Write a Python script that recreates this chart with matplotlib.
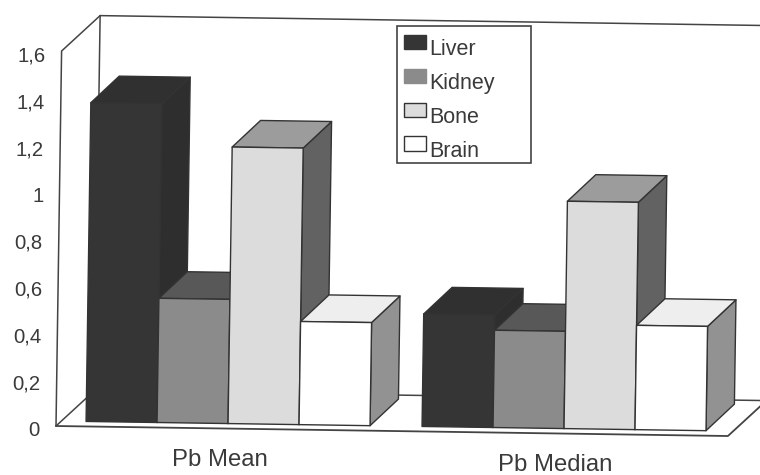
import matplotlib
matplotlib.use("Agg")
import matplotlib.pyplot as plt
from matplotlib.patches import Polygon, Patch, Rectangle
from matplotlib.legend_handler import HandlerPatch
from matplotlib.transforms import Affine2D

categories = ["Pb Mean", "Pb Median"]
series_names = ["Liver", "Kidney", "Bone", "Brain"]
liver = [1.36, 0.48]
kidney = [0.53, 0.415]
bone = [1.18, 0.97]
brain = [0.44, 0.445]
y_ticks = [0, 0.2, 0.4, 0.6, 0.8, 1, 1.2, 1.4, 1.6]
y_tick_labels = ["0", "0,2", "0,4", "0,6", "0,8", "1", "1,2", "1,4", "1,6"]

W, H, DPI = 760, 475, 100
INK = "#333333"
TXT = "#3a3a3a"
FONT = "Liberation Sans"
LEFT, BASE, RIGHT, TOP = 56, 426, 728, 51     # front-plane pixels
TILT = 0.0149                                 # scan rotation, radians

# face colours: front, top, side
STYLES = [("#353535", "#303030", "#2e2e2e"),
          ("#8b8b8b", "#585858", "#585858"),
          ("#dcdcdc", "#9c9c9c", "#626262"),
          ("#ffffff", "#eeeeee", "#929292")]
LEGEND_EDGES = ["#353535", "#8b8b8b", "#333333", "#333333"]

fig = plt.figure(figsize=(W / DPI, H / DPI), dpi=DPI, facecolor="white")
ax = fig.add_axes([LEFT / W, (H - BASE) / H, (RIGHT - LEFT) / W, (BASE - TOP) / H])
ax.set_xlim(-0.5, 1.5)
ax.set_ylim(0, 1.6)
ax.patch.set_visible(False)
for s in ax.spines.values():
    s.set_visible(False)

rot = Affine2D().rotate_around(LEFT, H - BASE, -TILT)
tr = ax.transData + rot

# pixel depth converted to data units through the axis scales
px_x = (ax.get_xlim()[1] - ax.get_xlim()[0]) / (RIGHT - LEFT)
px_y = (ax.get_ylim()[1] - ax.get_ylim()[0]) / (BASE - TOP)
def depth(dx, dy):
    return dx * px_x, dy * px_y

WALL = depth(38, 36)
BAR_NEAR = depth(4, 5)
BAR_FAR = depth(32, 32)
BAR_W = 71 * px_x

def line(points, lw=1.1, color="#444444", z=1):
    ax.plot(*zip(*points), color=color, lw=lw, transform=tr, clip_on=False,
            zorder=z, solid_capstyle="round")

x0, x1 = ax.get_xlim()
ymax = ax.get_ylim()[1]
line([(x0, 0), (x0, ymax), (x0 + WALL[0], ymax + WALL[1])])
line([(x0 + WALL[0], ymax + WALL[1]), (x0 + WALL[0], WALL[1])])
line([(x0 + WALL[0], ymax + WALL[1]), (x1 + WALL[0], ymax + WALL[1])])
line([(x0, 0), (x0 + WALL[0], WALL[1]), (x1 + WALL[0], WALL[1])])
line([(x0, 0), (x1, 0), (x1 + WALL[0], WALL[1])], lw=1.3, z=2)

def face(pts, color, z):
    ax.add_patch(Polygon(pts, closed=True, facecolor=color, edgecolor=INK, lw=1.0,
                         transform=tr, clip_on=False, zorder=z, joinstyle="round"))

values = [liver, kidney, bone, brain]
z = 3
for g in range(len(categories)):
    for i, vals in enumerate(values):
        v = vals[g]
        left = g + (i - 2) * BAR_W + BAR_NEAR[0]
        right = left + BAR_W
        base = BAR_NEAR[1]
        top = base + v
        ddx = BAR_FAR[0] - BAR_NEAR[0]
        ddy = BAR_FAR[1] - BAR_NEAR[1]
        fc, tc, sc = STYLES[i]
        face([(right, base), (right + ddx, base + ddy), (right + ddx, top + ddy), (right, top)], sc, z)
        face([(left, top), (right, top), (right + ddx, top + ddy), (left + ddx, top + ddy)], tc, z + 0.1)
        face([(left, base), (right, base), (right, top), (left, top)], fc, z + 0.2)
        z += 1

# real axis ticks, shifted to follow the tilt of the scan
ax.set_yticks(y_ticks)
ax.set_yticklabels(y_tick_labels, fontfamily=FONT, fontsize=14.6, color=TXT)
ax.set_xticks(range(len(categories)))
ax.set_xticklabels(categories, fontfamily=FONT, fontsize=17.2, color=TXT)
ax.tick_params(axis="both", length=0)
ax.tick_params(axis="y", pad=11.6)
ax.tick_params(axis="x", pad=15)
shift_y = rot + Affine2D().translate(0, -3)
shift_x = rot + Affine2D().translate(-4, 0)
for lab in ax.get_yticklabels():
    lab.set_transform(lab.get_transform() + shift_y)
for lab in ax.get_xticklabels():
    lab.set_transform(lab.get_transform() + shift_x)

# legend: swatches sit a little above the text centre in the reference
def raised_swatch(legend, orig_handle, xdescent, ydescent, width, height, fontsize):
    return Rectangle((-xdescent, -ydescent + 4), width, height)

handles = [Patch(facecolor=STYLES[i][0], edgecolor=LEGEND_EDGES[i], lw=1.0, label=series_names[i])
           for i in range(4)]
leg = ax.legend(handles=handles, loc="upper left",
                bbox_to_anchor=(395 / W, (H - 30) / H), bbox_transform=fig.transFigure,
                prop={"family": FONT, "size": 15.5}, frameon=False, borderaxespad=0,
                borderpad=0.42, labelspacing=0.6, handlelength=1.03, handleheight=0.65,
                handletextpad=0.12, handler_map={Patch: HandlerPatch(patch_func=raised_swatch)})
leg.set_zorder(50)
for t in leg.get_texts():
    t.set_color(TXT)
fig.add_artist(Rectangle((397 / W, (H - 163) / H), 134 / W, 137 / H, transform=fig.transFigure,
                         facecolor="white", edgecolor="#444444", lw=1.2, zorder=0.5))
ax.set_zorder(1)

fig.savefig("out.png", dpi=DPI, facecolor="white")
